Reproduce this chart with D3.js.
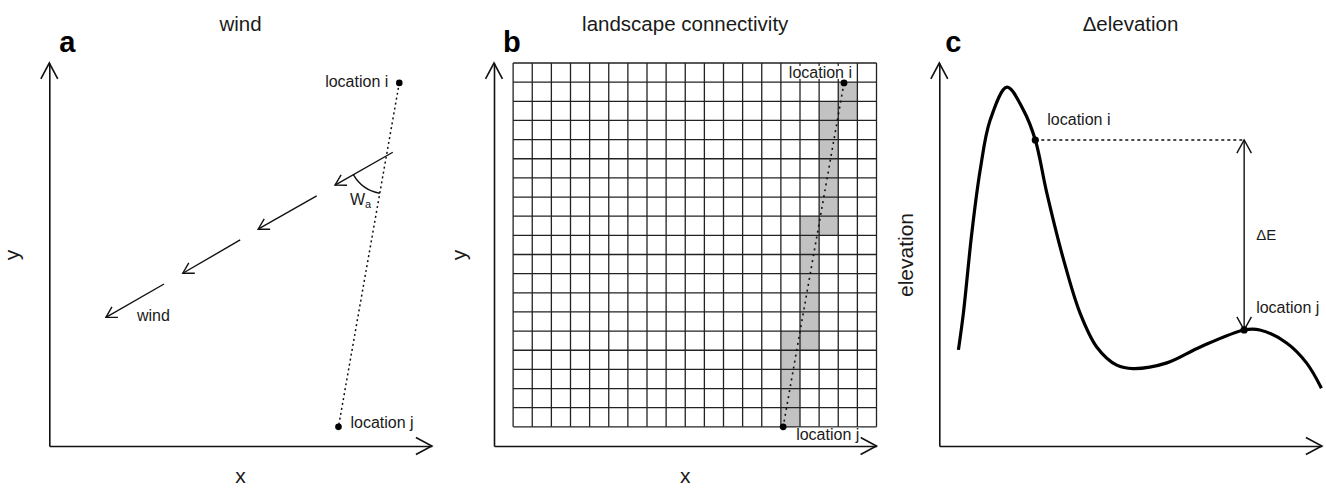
<!DOCTYPE html>
<html><head><meta charset="utf-8">
<script src="https://cdn.jsdelivr.net/npm/d3@7"></script>
<style>
body{margin:0;background:#fff;}
svg{display:block;}
text{font-family:"Liberation Sans",Arial,Helvetica,sans-serif;fill:#1a1a1a;}
</style></head><body>
<svg id="chart" width="1326" height="488"></svg>
<script>
// ================= DATA =================
const panelTitles  = ["wind", "landscape connectivity", "\u0394elevation"];
const panelLetters = ["a", "b", "c"];
const xAxisLabels  = ["x", "x", ""];
const yAxisLabels  = ["y", "y", "elevation"];

// locations i and j (panel a and b share the same coordinates, 0-100 units)
const locationI = [91.5, 94.8];
const locationJ = [75.6, 5.0];
const locationLabels = ["location i", "location j"];

// wind arrows: tail -> head (0-100 units)
const windTails = [[89.8, 76.7], [69.9, 65.3], [49.9, 53.8], [30.0, 42.3]];
const windHeads = [[74.7, 68.1], [54.6, 56.6], [34.9, 45.1], [14.8, 33.6]];
const windLabel = "wind";
const angleLabel = ["W", "a"];

// landscape grid: 19 x 19 cells, shaded runs of cells (col, first row, last row; row 0 = top)
const gridCols = 19, gridRows = 19;
const gridExtentX = [5, 100];
const gridExtentY = [5, 100];
const shadedCol  = [17, 16, 15, 14];
const shadedFrom = [1, 2, 8, 14];
const shadedTo   = [2, 8, 14, 18];

// elevation profile (position, elevation; 0-100 units)
const elevX = [5.0, 6.3, 8.5, 10.7, 13.3, 17.7, 22.0, 25.1, 28.1, 32.5, 36.8, 41.2, 46.4, 50.7, 59.5, 68.1, 79.7, 83.8, 90.8, 96.0, 99.9];
const elevY = [25.1, 34.7, 55.6, 72.1, 85.1, 93.7, 87.7, 79.9, 66.1, 48.6, 34.7, 25.8, 21.1, 20.2, 21.7, 25.8, 30.3, 30.3, 26.9, 21.7, 15.1];
const elevI = 7;   // index of location i on the profile
const elevJ = 16;  // index of location j on the profile
const deltaLabel = "\u0394E";

(function () {
// ================= LAYOUT =================
const svg = d3.select("#chart");
const panelX0 = [49.3, 494, 939.3];
const panelW = 382.5, plotTop = 63, plotBottom = 446;
const letterDx = [10, 9, 6];
const yLabelDx = [-30, -28, -26];

const scales = panelX0.map(x0 => ({
  x: d3.scaleLinear([0, 100], [x0, x0 + panelW]),
  y: d3.scaleLinear([0, 100], [plotBottom, plotTop])
}));

function arrowHead(g, tip, from, len, half, sw) {
  const dx = tip[0] - from[0], dy = tip[1] - from[1];
  const d = Math.hypot(dx, dy), ux = dx / d, uy = dy / d;
  const rot = (a) => [tip[0] - len * (ux * Math.cos(a) - uy * Math.sin(a)),
                      tip[1] - len * (ux * Math.sin(a) + uy * Math.cos(a))];
  const p1 = rot(half), p2 = rot(-half);
  g.append("path")
    .attr("d", `M${p1[0]},${p1[1]}L${tip[0]},${tip[1]}L${p2[0]},${p2[1]}`)
    .attr("fill", "none").attr("stroke", "#111").attr("stroke-width", sw);
}

// ---------- common: axes, titles, letters ----------
scales.forEach((s, k) => {
  const g = svg.append("g");
  const x0 = panelX0[k];
  const ax = g.append("g").attr("transform", `translate(0,${plotBottom})`)
    .call(d3.axisBottom(s.x).tickValues([]).tickSizeOuter(0));
  const ay = g.append("g").attr("transform", `translate(${x0},0)`)
    .call(d3.axisLeft(s.y).tickValues([]).tickSizeOuter(0));
  [ax, ay].forEach(a => a.select(".domain").attr("stroke", "#111").attr("stroke-width", 1.6));
  arrowHead(g, [s.x(0), s.y(100)], [s.x(0), s.y(0)], 18, 28 * Math.PI / 180, 1.6);
  arrowHead(g, [s.x(100), s.y(0)], [s.x(0), s.y(0)], 18, 28 * Math.PI / 180, 1.6);

  g.append("text").attr("x", x0 + panelW / 2).attr("y", 31)
    .attr("text-anchor", "middle").attr("font-size", 20.5).text(panelTitles[k]);
  g.append("text").attr("x", x0 + letterDx[k]).attr("y", 52)
    .attr("font-size", 29).attr("font-weight", "bold").style("fill", "#000").text(panelLetters[k]);
  if (xAxisLabels[k]) g.append("text").attr("x", x0 + panelW / 2).attr("y", 483)
    .attr("text-anchor", "middle").attr("font-size", 21).text(xAxisLabels[k]);
  g.append("text").attr("transform", `translate(${x0 + yLabelDx[k]},255) rotate(-90)`)
    .attr("text-anchor", "middle").attr("font-size", 21).text(yAxisLabels[k]);
});

// ---------- panel a: wind ----------
{
  const s = scales[0], g = svg.append("g");
  const pi = [s.x(locationI[0]), s.y(locationI[1])], pj = [s.x(locationJ[0]), s.y(locationJ[1])];
  g.append("line").attr("x1", pi[0]).attr("y1", pi[1]).attr("x2", pj[0]).attr("y2", pj[1])
    .attr("stroke", "#111").attr("stroke-width", 1.5).attr("stroke-dasharray", "2,3");
  windTails.forEach((t, k) => {
    const a = [s.x(t[0]), s.y(t[1])], b = [s.x(windHeads[k][0]), s.y(windHeads[k][1])];
    g.append("line").attr("x1", a[0]).attr("y1", a[1]).attr("x2", b[0]).attr("y2", b[1])
      .attr("stroke", "#111").attr("stroke-width", 1.4);
    arrowHead(g, b, a, 12, 30 * Math.PI / 180, 1.4);
  });
  const a = [s.x(windTails[0][0]), s.y(windTails[0][1])], b = [s.x(windHeads[0][0]), s.y(windHeads[0][1])];
  const d1 = [b[0] - a[0], b[1] - a[1]], d2 = [pj[0] - pi[0], pj[1] - pi[1]];
  const den = d1[0] * d2[1] - d1[1] * d2[0];
  const t = ((pi[0] - a[0]) * d2[1] - (pi[1] - a[1]) * d2[0]) / den;
  const c = [a[0] + t * d1[0], a[1] + t * d1[1]];
  const arc = d3.path();
  const a0 = Math.atan2(d2[1], d2[0]), a1 = Math.atan2(d1[1], d1[0]);
  arc.moveTo(c[0] + 38 * Math.cos(a0), c[1] + 38 * Math.sin(a0));
  arc.arc(c[0], c[1], 38, a0, a1, false);
  g.append("path").attr("d", arc.toString()).attr("fill", "none").attr("stroke", "#111").attr("stroke-width", 1.4);
  const wt = g.append("text").attr("x", 350).attr("y", 205).attr("font-size", 16);
  wt.append("tspan").text(angleLabel[0]);
  wt.append("tspan").attr("font-size", 11).attr("dy", 3).text(angleLabel[1]);

  const h4 = windHeads[3];
  g.append("text").attr("x", s.x(h4[0]) + 31).attr("y", s.y(h4[1]) + 4).attr("font-size", 16).text(windLabel);

  [pi, pj].forEach(p => g.append("circle").attr("cx", p[0]).attr("cy", p[1]).attr("r", 3.3).attr("fill", "#000"));
  g.append("text").attr("x", pi[0] - 11).attr("y", pi[1] + 4).attr("text-anchor", "end").attr("font-size", 16).text(locationLabels[0]);
  g.append("text").attr("x", pj[0] + 12).attr("y", pj[1] + 1).attr("font-size", 16).text(locationLabels[1]);
}

// ---------- panel b: landscape connectivity ----------
{
  const s = scales[1], g = svg.append("g");
  const gx = d3.scaleLinear([0, gridCols], [s.x(gridExtentX[0]), s.x(gridExtentX[1])]);
  const gy = d3.scaleLinear([0, gridRows], [s.y(gridExtentY[1]), s.y(gridExtentY[0])]);
  shadedCol.forEach((c, k) => {
    for (let r = shadedFrom[k]; r <= shadedTo[k]; r++) {
      g.append("rect").attr("x", gx(c)).attr("y", gy(r))
        .attr("width", gx(c + 1) - gx(c)).attr("height", gy(r + 1) - gy(r)).attr("fill", "#c2c2c2");
    }
  });
  d3.range(gridCols + 1).forEach(c => g.append("line")
    .attr("x1", gx(c)).attr("x2", gx(c)).attr("y1", gy(0)).attr("y2", gy(gridRows))
    .attr("stroke", "#222").attr("stroke-width", 1.3));
  d3.range(gridRows + 1).forEach(r => g.append("line")
    .attr("x1", gx(0)).attr("x2", gx(gridCols)).attr("y1", gy(r)).attr("y2", gy(r))
    .attr("stroke", "#222").attr("stroke-width", 1.3));
  const pi = [s.x(locationI[0]), s.y(locationI[1])], pj = [s.x(locationJ[0]), s.y(locationJ[1])];
  g.append("line").attr("x1", pi[0]).attr("y1", pi[1]).attr("x2", pj[0]).attr("y2", pj[1])
    .attr("stroke", "#111").attr("stroke-width", 1.6).attr("stroke-dasharray", "2,4");
  [pi, pj].forEach(p => g.append("circle").attr("cx", p[0]).attr("cy", p[1]).attr("r", 3.4).attr("fill", "#000"));
  const lab = [[pi[0] + 8, pi[1] - 5, "end", locationLabels[0]], [pj[0] + 13, pj[1] + 13, "start", locationLabels[1]]];
  lab.forEach(L => {
    const t = g.append("text").attr("x", L[0]).attr("y", L[1]).attr("text-anchor", L[2]).attr("font-size", 16).text(L[3]);
    const bb = t.node().getBBox();
    g.insert("rect", () => t.node()).attr("x", bb.x - 1).attr("y", bb.y + 2).attr("width", bb.width + 2).attr("height", bb.height - 4).attr("fill", "#fff");
  });
}

// ---------- panel c: elevation ----------
{
  const s = scales[2], g = svg.append("g");
  const pts = elevX.map((x, k) => [x, elevY[k]]);
  const line = d3.line().x(d => s.x(d[0])).y(d => s.y(d[1])).curve(d3.curveCatmullRom.alpha(0.5));
  g.append("path").attr("d", line(pts)).attr("fill", "none").attr("stroke", "#000").attr("stroke-width", 3.2);
  const pi = [s.x(elevX[elevI]), s.y(elevY[elevI])], pj = [s.x(elevX[elevJ]), s.y(elevY[elevJ])];
  g.append("line").attr("x1", pi[0]).attr("y1", pi[1]).attr("x2", pj[0]).attr("y2", pi[1])
    .attr("stroke", "#111").attr("stroke-width", 1.3).attr("stroke-dasharray", "3,3");
  g.append("line").attr("x1", pj[0]).attr("y1", pi[1]).attr("x2", pj[0]).attr("y2", pj[1])
    .attr("stroke", "#111").attr("stroke-width", 1.4);
  arrowHead(g, [pj[0], pi[1]], [pj[0], pj[1]], 15, 29 * Math.PI / 180, 1.4);
  arrowHead(g, [pj[0], pj[1]], [pj[0], pi[1]], 15, 29 * Math.PI / 180, 1.4);
  [pi, pj].forEach(p => g.append("circle").attr("cx", p[0]).attr("cy", p[1]).attr("r", 3.6).attr("fill", "#000"));
  g.append("text").attr("x", pi[0] + 12).attr("y", pi[1] - 15).attr("font-size", 16).text(locationLabels[0]);
  g.append("text").attr("x", pj[0] + 12).attr("y", pj[1] - 17).attr("font-size", 16).text(locationLabels[1]);
  g.append("text").attr("x", pj[0] + 12).attr("y", (pi[1] + pj[1]) / 2 + 5).attr("font-size", 15).text(deltaLabel);
}
})();
</script>
</body></html>
